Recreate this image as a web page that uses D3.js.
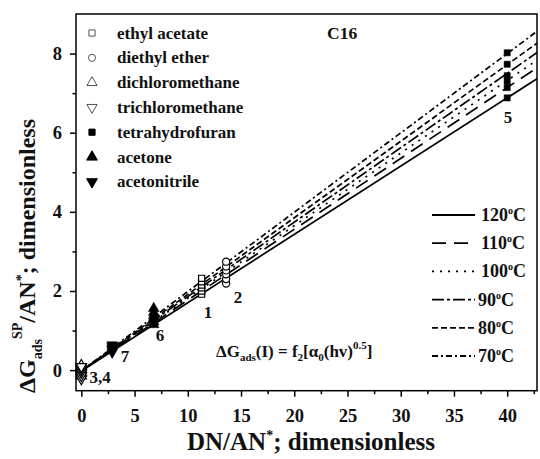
<!DOCTYPE html>
<html><head><meta charset="utf-8">
<script src="https://cdn.jsdelivr.net/npm/d3@7"></script>
<style>body{margin:0;background:#fff}svg{display:block}</style>
</head><body><svg id="c" width="540" height="459" font-family="Liberation Serif" font-weight="bold"></svg>
<script>
// ---- data ----
const solvents = ["ethyl acetate","diethyl ether","dichloromethane","trichloromethane","tetrahydrofuran","acetone","acetonitrile"];
const solventX = [11.3, 13.6, 0, 0, 40, 6.8, 2.9];
const solventLabel = ["1","2","3,4","","5","6","7"];
const temps = ["120","110","100","90","80","70"];
// y values per solvent, order of temps 120..70
const yEthylAcetate = [1.92, 2.00, 2.08, 2.15, 2.23, 2.32];
const yDiethylEther = [2.19, 2.30, 2.42, 2.52, 2.62, 2.74];
const yDichloromethane = [-0.15, -0.08, -0.02, 0.03, 0.07, 0.12];
const yTrichloromethane = [-0.22, -0.14, -0.06, 0.0, 0.05, 0.09];
const yTetrahydrofuran = [6.88, 7.14, 7.30, 7.44, 7.73, 8.02];
const yAcetone = [1.15, 1.22, 1.30, 1.38, 1.46, 1.56];
const yAcetonitrile = [0.45, 0.50, 0.53, 0.56, 0.60, 0.64];
const solventY = [yEthylAcetate, yDiethylEther, yDichloromethane, yTrichloromethane, yTetrahydrofuran, yAcetone, yAcetonitrile];
// fitted lines: y = intercept + slope*x
const lineIntercept = [-0.02, -0.02, -0.02, -0.02, -0.02, -0.02];
const lineSlope = [0.1725, 0.179, 0.1835, 0.188, 0.1935, 0.2005];
const xTicks = [0,5,10,15,20,25,30,35,40];
const yTicks = [0,2,4,6,8];

// ---- layout ----
const FONT = "Liberation Serif";
const svg = d3.select("#c");
function T(sel){ return sel.attr("font-family",FONT).attr("font-weight","bold").attr("fill","#111"); }
const x = d3.scaleLinear().domain([-0.5, 42.8]).range([76, 537]);
const y = d3.scaleLinear().domain([-0.52, 9.0]).range([390.7, 14]);

const symTypes = [
  {t:d3.symbolSquare, fill:false, size:38, rot:0},
  {t:d3.symbolCircle, fill:false, size:40, rot:0},
  {t:d3.symbolTriangle, fill:false, size:45, rot:0},
  {t:d3.symbolTriangle, fill:false, size:45, rot:180},
  {t:d3.symbolSquare, fill:true, size:38, rot:0},
  {t:d3.symbolTriangle, fill:true, size:50, rot:0},
  {t:d3.symbolTriangle, fill:true, size:50, rot:180}
];
const dashes = ["none","14,8","2,6","12,3,3,3","6,3","6,3,2,3"];

svg.append("clipPath").attr("id","clip").append("rect")
  .attr("x",76).attr("y",14).attr("width",461).attr("height",376.7);

// lines
const lg = svg.append("g").attr("clip-path","url(#clip)");
temps.forEach((t,i)=>{
  lg.append("line")
    .attr("x1",x(0)).attr("y1",y(lineIntercept[i]))
    .attr("x2",x(44)).attr("y2",y(lineIntercept[i]+lineSlope[i]*44))
    .attr("stroke","#000").attr("stroke-width",1.7)
    .attr("stroke-dasharray",dashes[i]);
});

// points
const pg = svg.append("g");
solvents.forEach((s,si)=>{
  const st = symTypes[si];
  const sym = d3.symbol().type(st.t).size(st.size);
  solventY[si].forEach(v=>{
    pg.append("path").attr("d",sym())
      .attr("transform",`translate(${x(solventX[si])},${y(v)}) rotate(${st.rot})`)
      .attr("fill", st.fill?"#000":"#fff")
      .attr("stroke","#000").attr("stroke-width", st.fill?0.5:1.2);
  });
});

// frame
svg.append("rect").attr("x",76).attr("y",14).attr("width",461).attr("height",376.7)
  .attr("fill","none").attr("stroke","#000").attr("stroke-width",1.5);

// axes
svg.append("g").attr("transform","translate(0,390.7)")
  .call(d3.axisBottom(x).tickValues(xTicks).tickSize(6).tickSizeOuter(0).tickPadding(12));
svg.append("g").attr("transform","translate(0,390.7)")
  .call(d3.axisBottom(x).tickValues(xTicks.map(v=>v+2.5)).tickSize(3.5).tickSizeOuter(0).tickFormat(""));
svg.append("g").attr("transform","translate(76,0)")
  .call(d3.axisLeft(y).tickValues(yTicks).tickSize(6).tickSizeOuter(0).tickPadding(8));
svg.append("g").attr("transform","translate(76,0)")
  .call(d3.axisLeft(y).tickValues(yTicks.slice(0,4).map(v=>v+1)).tickSize(3.5).tickSizeOuter(0).tickFormat(""));
svg.selectAll(".domain").remove();
svg.selectAll("g").attr("font-family",FONT);
svg.selectAll(".tick line").attr("stroke","#000").attr("stroke-width",1.5);
T(svg.selectAll(".tick text")).attr("font-size",18.5);

// solvent legend
solvents.forEach((s,i)=>{
  const yy = 33 + i*24.8;
  const st = symTypes[i];
  svg.append("path").attr("d",d3.symbol().type(st.t).size(st.size)())
    .attr("transform",`translate(92,${yy}) rotate(${st.rot})`)
    .attr("fill", st.fill?"#000":"#fff").attr("stroke", st.fill?"#000":"#555").attr("stroke-width",1);
  T(svg.append("text")).attr("x",117).attr("y",yy+5.5).attr("font-size",17).text(s);
});

// C16
T(svg.append("text")).attr("x",327).attr("y",39).attr("font-size",17.5).text("C16");

// solvent number labels
const numPos = [[208,318],[238,303],[100,383],null,[508,123],[160,341],[125,362]];
solventLabel.forEach((l,i)=>{
  if(!l) return;
  T(svg.append("text")).attr("x",numPos[i][0]).attr("y",numPos[i][1]).attr("text-anchor","middle")
    .attr("font-size",17).text(l);
});

// temperature legend
temps.forEach((t,i)=>{
  const yy = 215 + i*28.2;
  svg.append("line").attr("x1",432).attr("x2",475).attr("y1",yy).attr("y2",yy)
    .attr("stroke","#000").attr("stroke-width",1.8).attr("stroke-dasharray",dashes[i]);
  const tx = T(svg.append("text")).attr("x",t.length===3?481:478).attr("y",yy+6).attr("font-size",18);
  tx.append("tspan").text(t);
  tx.append("tspan").attr("dy",-7).attr("font-size",10).text("o");
  tx.append("tspan").attr("dy",7).text("C");
});

// formula
const f = T(svg.append("text")).attr("x",216).attr("y",357).attr("font-size",17);
f.append("tspan").text("ΔG");
f.append("tspan").attr("dy",4).attr("font-size",11).text("ads");
f.append("tspan").attr("dy",-4).text("(I) = f");
f.append("tspan").attr("dy",4).attr("font-size",11).text("2");
f.append("tspan").attr("dy",-4).text("[α");
f.append("tspan").attr("dy",4).attr("font-size",11).text("0");
f.append("tspan").attr("dy",-4).text("(hv)");
f.append("tspan").attr("dy",-8).attr("font-size",11).text("0.5");
f.append("tspan").attr("dy",8).text("]");

// x title
const xt = T(svg.append("text")).attr("x",311).attr("y",450).attr("text-anchor","middle").attr("font-size",25);
xt.append("tspan").text("DN/AN");
xt.append("tspan").attr("dy",-10).attr("font-size",14).text("*");
xt.append("tspan").attr("dy",10).text("; dimensionless");

// y title
const yt = T(svg.append("text")).attr("transform","translate(35,256) rotate(-90)").attr("text-anchor","middle").attr("font-size",24);
yt.append("tspan").text("ΔG");
yt.append("tspan").attr("dy",7).attr("font-size",14).text("ads");
yt.append("tspan").attr("dy",-20).attr("font-size",14).text("SP");
yt.append("tspan").attr("dy",13).text("/AN");
yt.append("tspan").attr("dy",-9).attr("font-size",14).text("*");
yt.append("tspan").attr("dy",9).text("; dimensionless");
</script></body></html>
